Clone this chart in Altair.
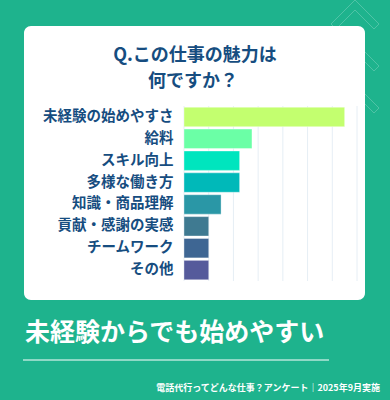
import altair as alt
import pandas as pd

categories = ["未経験の始めやすさ", "給料", "スキル向上", "多様な働き方", "知識・商品理解", "貢献・感謝の実感", "チームワーク", "その他"]
values = [65, 27.5, 22.5, 22.5, 15, 10, 10, 10]
colors = ["#C3FF6F", "#6BFFA6", "#00E5BE", "#00B9B9", "#2A97A6", "#3F7A91", "#3E6693", "#555A9B"]
grid_ticks = [0, 10, 20, 30, 40, 50, 60, 70]
title_lines = ["Q.この仕事の魅力は", "何ですか？"]
headline = "未経験からでも始めやすい"
footer = "電話代行ってどんな仕事？アンケート｜2025年9月実施"

FONT = "Noto Sans CJK JP"
BG = "#1EB38D"
NAVY = "#164D80"
OX, OY = 184, 106  # plot origin within the 390x400 page
W, H = 173, 175

df = pd.DataFrame({"cat": categories, "val": values, "col": colors})
xscale = alt.Scale(domain=[0, 70], nice=False, zero=True)

# decorative chevrons (top right background)
segs = []
for k, dy in enumerate([0, 42, 84]):
    pts = [(331, 24), (355, 0), (379, 24), (374, 29), (355, 10), (336, 29), (331, 24)]
    for (a, b), (c, d) in zip(pts[:-1], pts[1:]):
        segs.append({"x": a - OX, "y": b + dy - OY, "x2": c - OX, "y2": d + dy - OY})
chev = alt.Chart(pd.DataFrame(segs)).mark_rule(
    color="white", strokeOpacity=0.22, strokeWidth=1
).encode(
    x=alt.X("x:Q", scale=None), y=alt.Y("y:Q", scale=None),
    x2="x2:Q", y2="y2:Q",
)

card = alt.Chart(pd.DataFrame({"a": [1]})).mark_rect(
    fill="white", cornerRadius=7
).encode(
    x=alt.value(24 - OX), x2=alt.value(365 - OX),
    y=alt.value(26 - OY), y2=alt.value(300 - OY),
)

grid = alt.Chart(pd.DataFrame({"g": grid_ticks})).mark_rule(
    color="#E6EEF5", strokeWidth=1
).encode(
    x=alt.X("g:Q", scale=xscale, axis=None)
)

bars = alt.Chart(df).mark_bar(
    strokeWidth=1, stroke="white", strokeOpacity=0.35
).encode(
    y=alt.Y("cat:N", sort=categories,
            scale=alt.Scale(paddingInner=0.114, paddingOuter=0.057),
            axis=alt.Axis(title=None, domain=False, ticks=False, labelPadding=11,
                          labelFont=FONT, labelFontSize=14.5, labelFontWeight="bold",
                          labelColor=NAVY, zindex=2, labelLimit=200)),
    x=alt.X("val:Q", scale=xscale, axis=None),
    color=alt.Color("col:N", scale=None),
)

title1 = alt.Chart(pd.DataFrame({"t": [title_lines[0]]})).mark_text(
    font=FONT, fontSize=18, fontWeight="bold", color=NAVY, align="center", baseline="middle"
).encode(text="t:N", x=alt.value(195 - OX), y=alt.value(56 - OY))

title2 = alt.Chart(pd.DataFrame({"t": [title_lines[1]]})).mark_text(
    font=FONT, fontSize=18, fontWeight="bold", color=NAVY, align="center", baseline="middle"
).encode(text="t:N", x=alt.value(193 - OX), y=alt.value(82 - OY))

head = alt.Chart(pd.DataFrame({"t": [headline]})).mark_text(
    font=FONT, fontSize=25, fontWeight="bold", color="white", align="left", baseline="middle"
).encode(text="t:N", x=alt.value(25 - OX), y=alt.value(333 - OY))

line = alt.Chart(pd.DataFrame({"a": [1]})).mark_rule(color="white", strokeWidth=1).encode(
    x=alt.value(23 - OX), x2=alt.value(329 - OX), y=alt.value(360 - OY)
)

foot = alt.Chart(pd.DataFrame({"t": [footer]})).mark_text(
    font=FONT, fontSize=9, fontWeight="bold", color="white", align="right", baseline="middle"
).encode(text="t:N", x=alt.value(380 - OX), y=alt.value(388 - OY))

chart = alt.layer(chev, card, grid, bars, title1, title2, head, line, foot).resolve_scale(
    x="independent", y="independent"
).properties(
    width=W, height=H,
    padding={"left": OX, "top": OY, "right": 390 - OX - W, "bottom": 400 - OY - H},
    autosize=alt.AutoSizeParams(type="none"),
    background=BG,
).configure_view(stroke=None)

chart.save("out.html", embed_options={"renderer": "svg", "actions": False})
